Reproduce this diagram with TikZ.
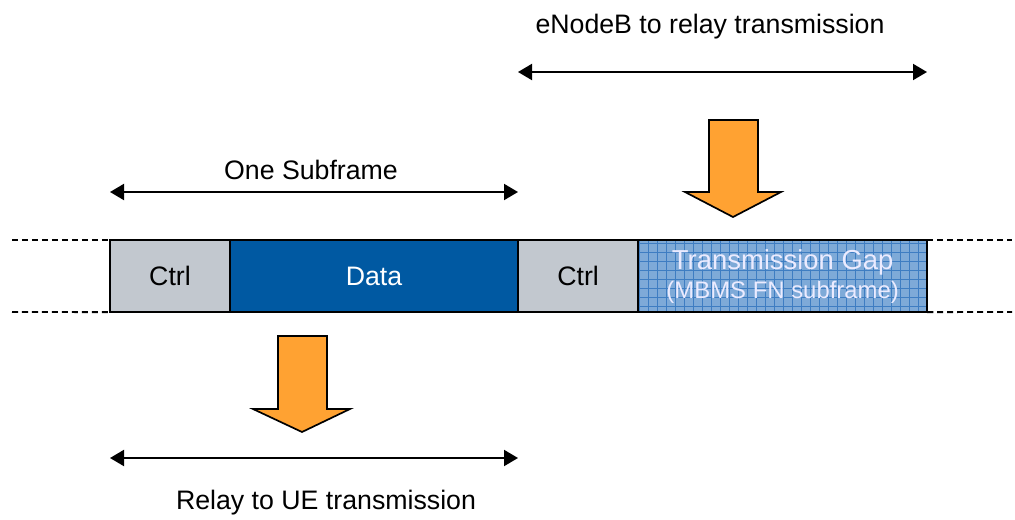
\documentclass[tikz,border=0pt]{standalone}
\usepackage{fontspec}
\setmainfont{Liberation Sans}
\usetikzlibrary{positioning, arrows.meta}
\definecolor{ctrlgray}{HTML}{C2C8CF}
\definecolor{datablue}{HTML}{0059A2}
\definecolor{gapblue}{HTML}{7EAAD8}
\definecolor{gapgrid}{HTML}{3E7DC2}
\definecolor{arroworange}{HTML}{FFA232}

\begin{document}
\begin{tikzpicture}
	[x=0.025cm, y=-0.025cm,
	 slot/.style={draw=black, line width=1.4pt, rectangle, minimum height=1.8cm,
	                    inner sep=0pt, outer sep=0pt, font=\fontsize{19}{21}\selectfont},
	 dim/.style={draw=black, line width=1.4pt, {Triangle[length=0.35cm, width=0.4cm]}-{Triangle[length=0.35cm, width=0.4cm]}},
	 lbl/.style={font=\fontsize{19}{21}\selectfont},
	 edge/.style={draw=black, line width=1.4pt, dash pattern=on 4.3pt off 2.8pt},
	 bigarrow/.style={draw=black, line width=1.2pt, fill=arroworange},
	 node distance=0cm]
	\useasboundingbox (0,0) rectangle (1015,520);

	% the subframes
	\node[slot, fill=ctrlgray, minimum width=3cm, anchor=north west] (ctrlA) at (110,240) {Ctrl};
	\node[slot, fill=datablue, text=white, minimum width=7.2cm, right=of ctrlA] (data) {Data};
	\node[slot, fill=ctrlgray, minimum width=3cm, right=of data] (ctrlB) {Ctrl};
	\node[slot, fill=gapblue, minimum width=7.225cm, right=of ctrlB] (gap) {};
	\begin{scope}
		\clip (gap.south west) rectangle (gap.north east);
		\draw[gapgrid, line width=0.5pt, step=0.225cm] (gap.south west) grid (gap.north east);
	\end{scope}
	\draw[line width=1.4pt] (gap.south west) rectangle (gap.north east);
	\node[text=white!92!blue, font=\fontsize{19.5}{21}\selectfont] (gaptxt) at (gap.center |- 0,262) {Transmission Gap};
	\node[text=white!92!blue, font=\fontsize{17}{19}\selectfont] (gapsub) at (gap.center |- 0,292) {(MBMS FN subframe)};

	% dashed frame edges
	\coordinate (edgeTL) at (12,240);
	\coordinate (edgeBL) at (12,312);
	\coordinate (edgeTR) at (1012,240);
	\coordinate (edgeBR) at (1012,312);
	\draw[edge] (edgeTL) -- (ctrlA.north west);
	\draw[edge] (edgeBL) -- (ctrlA.south west);
	\draw[edge] (gap.north east) -- (edgeTR);
	\draw[edge] (gap.south east) -- (edgeBR);

	% spans
	\coordinate (topL) at (518,72);
	\coordinate (topR) at (927,72);
	\coordinate (sfL) at (110,192);
	\coordinate (sfR) at (518,192);
	\coordinate (ueL) at (110,458);
	\coordinate (ueR) at (518,458);
	\draw[dim] (topL) -- (topR);
	\draw[dim] (sfL) -- (sfR);
	\draw[dim] (ueL) -- (ueR);
	\node[lbl] (toptxt) at (710,27) {eNodeB to relay transmission};
	\node[lbl] (sftxt) at (311,170) {One Subframe};
	\node[lbl] (uetxt) at (326,503) {Relay to UE transmission};

	% block arrows
	\draw[bigarrow] (709,120) -- (758,120) -- (758,192) -- (781,192) -- (733,217)
		-- (685,192) -- (709,192) -- cycle;
	\draw[bigarrow] (278,336) -- (327,336) -- (327,409) -- (350,409) -- (302,432)
		-- (253,409) -- (278,409) -- cycle;
\end{tikzpicture}
\end{document}
